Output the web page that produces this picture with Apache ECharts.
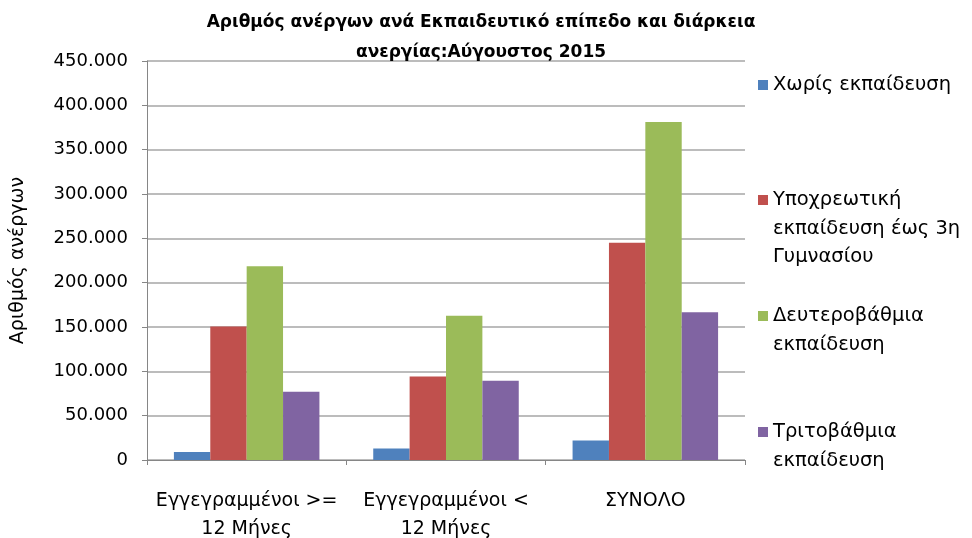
<!DOCTYPE html>
<html>
<head>
<meta charset="utf-8">
<script src="https://cdn.jsdelivr.net/npm/echarts@6/dist/echarts.min.js"></script>
<style>
  html, body { margin: 0; padding: 0; background: #fff; }
  #chart { width: 972px; height: 538px; }
</style>
</head>
<body>
<div id="chart"></div>
<script>
  // κατηγορίες άξονα x
  var categories = ['Εγγεγραμμένοι >=\n12 Μήνες', 'Εγγεγραμμένοι <\n12 Μήνες', 'ΣΥΝΟΛΟ']
  // σειρές (τιμές εκτιμημένες από την εικόνα)
  var seriesNames = ['Χωρίς εκπαίδευση', 'Υποχρεωτική εκπαίδευση έως 3η Γυμνασίου', 'Δευτεροβάθμια εκπαίδευση', 'Τριτοβάθμια εκπαίδευση']
  var legendLabels = ['Χωρίς εκπαίδευση', 'Υποχρεωτική\nεκπαίδευση έως 3η\nΓυμνασίου', 'Δευτεροβάθμια\nεκπαίδευση', 'Τριτοβάθμια\nεκπαίδευση']
  var noEducation = [9000, 13100, 22100]
  var compulsory = [150600, 94300, 244900]
  var secondary = [218600, 162700, 381300]
  var tertiary = [77000, 89500, 166500]
  var seriesData = [noEducation, compulsory, secondary, tertiary]
  var colors = ['#4F81BD', '#C0504D', '#9BBB59', '#8064A2']

  var font = 'DejaVu Sans'
  var legendLine = 28.5
  var legendCenters = [85, 200, 316, 432]

  // ένα legend ανά σειρά: κενές γραμμές μπροστά ώστε το τετράγωνο να πέφτει στην πρώτη γραμμή
  var legends = seriesNames.map(function (name, i) {
    var n = legendLabels[i].split('\n').length
    var pad = new Array(n).join('\n')
    return {
      left: 758,
      top: legendCenters[i] - (2 * n - 1) * legendLine / 2,
      padding: 0,
      itemWidth: 10,
      itemHeight: 10,
      itemGap: 0,
      icon: 'rect',
      selectedMode: false,
      data: [name],
      formatter: function () { return pad + legendLabels[i] },
      textStyle: {
        fontFamily: font,
        fontSize: 19.5,
        color: '#000',
        lineHeight: legendLine
      }
    }
  })

  var myChart = echarts.init(document.getElementById('chart'))
  myChart.setOption({
    animation: false,
    color: colors,
    title: {
      text: 'Αριθμός ανέργων ανά Εκπαιδευτικό επίπεδο και διάρκεια\nανεργίας:Αύγουστος 2015',
      left: 481,
      textAlign: 'center',
      top: 8,
      padding: 0,
      textStyle: {
        fontFamily: font,
        fontSize: 17,
        fontWeight: 'bold',
        color: '#000',
        lineHeight: 30
      }
    },
    legend: legends,
    grid: {
      left: 147,
      right: 227,
      top: 61,
      bottom: 78,
      outerBoundsMode: 'none'
    },
    xAxis: {
      type: 'category',
      data: categories,
      axisLine: { lineStyle: { color: '#868686', width: 1 } },
      axisTick: { show: true, length: 5, lineStyle: { color: '#868686' } },
      axisLabel: {
        interval: 0,
        fontFamily: font,
        fontSize: 19,
        color: '#000',
        lineHeight: 28,
        margin: 27
      }
    },
    yAxis: {
      type: 'value',
      min: 0,
      max: 450000,
      interval: 50000,
      name: 'Αριθμός ανέργων',
      nameLocation: 'middle',
      nameGap: 119,
      nameRotate: 90,
      nameTextStyle: {
        fontFamily: font,
        fontSize: 19,
        color: '#000'
      },
      axisLine: { show: true, lineStyle: { color: '#868686', width: 1 } },
      axisTick: { show: true, length: 5, lineStyle: { color: '#868686' } },
      splitLine: { lineStyle: { color: '#A6A6A6', width: 1.5 } },
      axisLabel: {
        fontFamily: font,
        fontSize: 18,
        color: '#000',
        margin: 19,
        formatter: function (v) {
          return v === 0 ? '0' : String(v).replace(/\B(?=(\d{3})+(?!\d))/g, '.')
        }
      }
    },
    series: seriesNames.map(function (name, i) {
      return {
        name: name,
        type: 'bar',
        data: seriesData[i],
        barGap: '0%',
        barCategoryGap: '27%'
      }
    })
  })
</script>
</body>
</html>
